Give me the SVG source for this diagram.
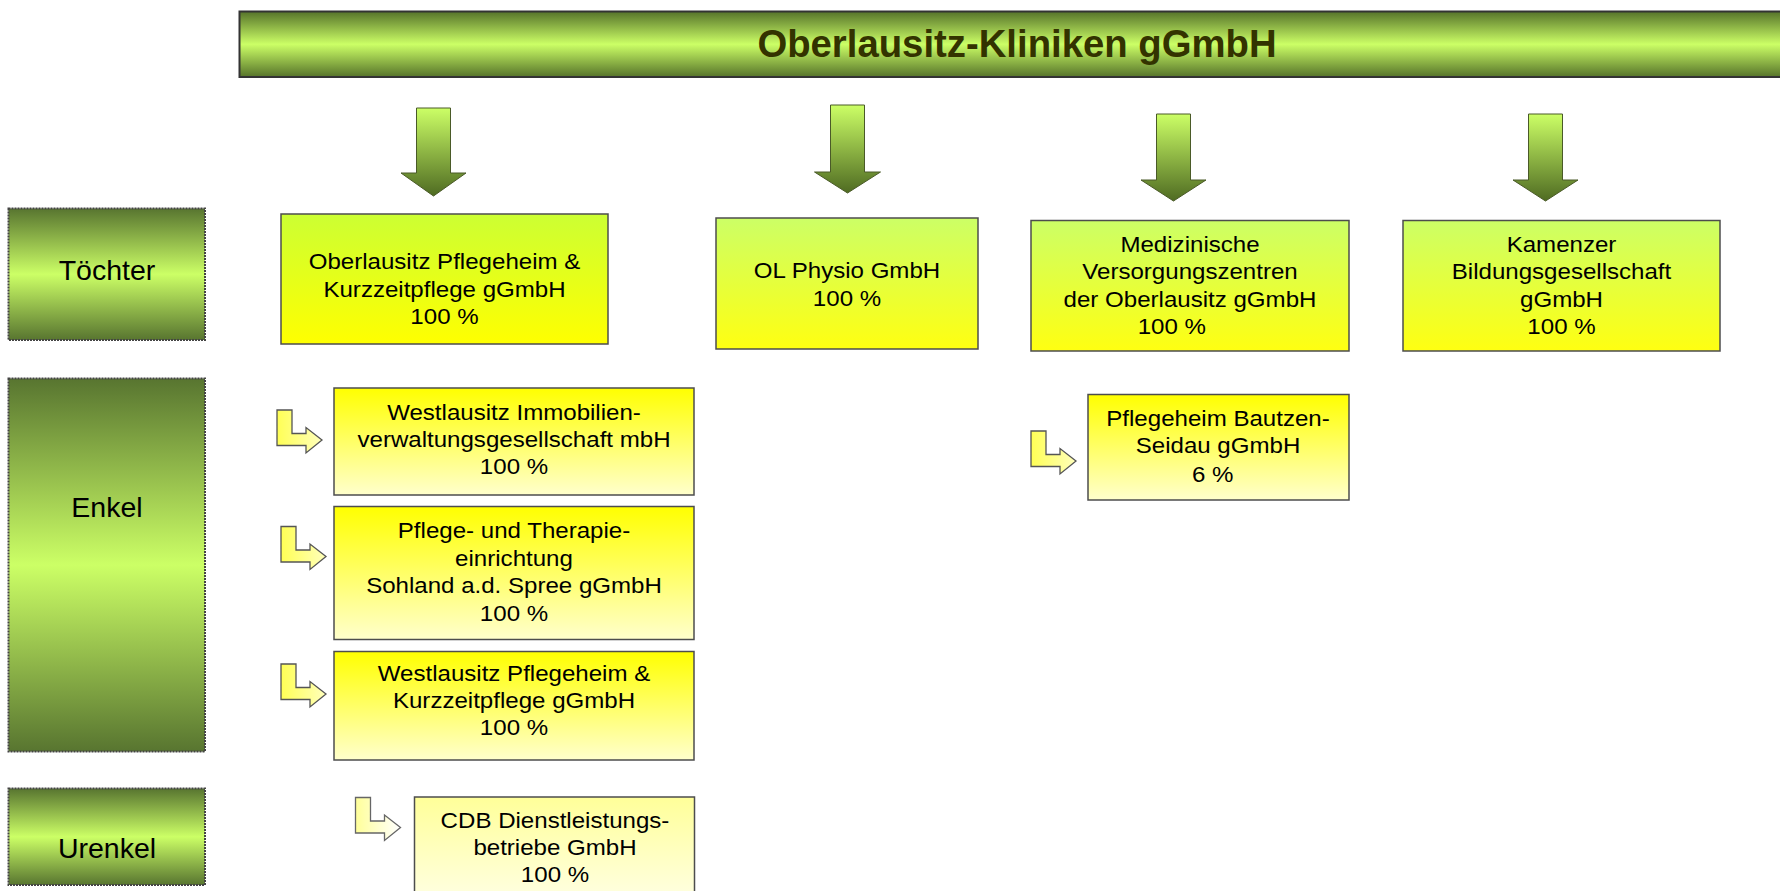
<svg xmlns="http://www.w3.org/2000/svg" width="1780" height="891" viewBox="0 0 1780 891">
<style>
.t{font-family:"Liberation Sans",Arial,sans-serif;font-size:22.5px;fill:#000;text-anchor:middle}
.lbl{font-family:"Liberation Sans",Arial,sans-serif;font-size:28.5px;fill:#000;text-anchor:middle}
.hdr{font-family:"Liberation Sans",Arial,sans-serif;font-size:38.3px;font-weight:bold;fill:#333300;text-anchor:middle}
.box{stroke:#4d4d4d;stroke-width:1.5}
.lblbox{fill:url(#gLbl);stroke:#444;stroke-width:2;stroke-dasharray:2 1}
.down{fill:url(#gDown);stroke:#4a5a28;stroke-width:1}
.bent{fill:url(#gBent);stroke:#555;stroke-width:1.3}
</style>
<defs>
<linearGradient id="gLbl" x1="0" y1="0" x2="0" y2="1">
<stop offset="0" stop-color="#587530"/><stop offset="0.5" stop-color="#ccff66"/><stop offset="1" stop-color="#587530"/>
</linearGradient>
<linearGradient id="gHdr" x1="0" y1="0" x2="0" y2="1">
<stop offset="0" stop-color="#56732a"/><stop offset="0.5" stop-color="#ccff66"/><stop offset="1" stop-color="#56732a"/>
</linearGradient>
<linearGradient id="gDown" x1="0" y1="0" x2="0" y2="1">
<stop offset="0" stop-color="#ccff66"/><stop offset="1" stop-color="#4f6b22"/>
</linearGradient>
<linearGradient id="gT1" x1="0" y1="0" x2="0" y2="1">
<stop offset="0" stop-color="#ccff33"/><stop offset="1" stop-color="#ffff00"/>
</linearGradient>
<linearGradient id="gT" x1="0" y1="0" x2="0" y2="1">
<stop offset="0" stop-color="#ccff66"/><stop offset="1" stop-color="#ffff11"/>
</linearGradient>
<linearGradient id="gE" x1="0" y1="0" x2="0" y2="1">
<stop offset="0" stop-color="#ffff00"/><stop offset="1" stop-color="#ffffcc"/>
</linearGradient>
<linearGradient id="gCDB" x1="0" y1="0" x2="0" y2="1">
<stop offset="0" stop-color="#ffff99"/><stop offset="1" stop-color="#ffffee"/>
</linearGradient>
<linearGradient id="gBent" x1="0" y1="0" x2="1" y2="0">
<stop offset="0" stop-color="#ffff55"/><stop offset="1" stop-color="#ffffbb"/>
</linearGradient>
<linearGradient id="gBentCDB" x1="0" y1="0" x2="1" y2="0">
<stop offset="0" stop-color="#ffff99"/><stop offset="1" stop-color="#ffffff"/>
</linearGradient>
<path id="bentShape" d="M0,0 H15 V23.5 H29 V17.5 L45,30 L29,43 V35.5 H0 Z"/>
</defs>

<rect width="1780" height="891" fill="#ffffff"/>

<g id="header">
<rect x="239.5" y="11.5" width="1560" height="65.5" fill="url(#gHdr)" stroke="#333" stroke-width="2"/>
<text class="hdr" x="1017" y="57">Oberlausitz-Kliniken gGmbH</text>
</g>

<g id="label-toechter">
<rect class="lblbox" x="8.5" y="208.5" width="196.5" height="131.5"/>
<text class="lbl" x="107" y="280">Töchter</text>
</g>
<g id="label-enkel">
<rect class="lblbox" x="8.5" y="378.5" width="196.5" height="373"/>
<text class="lbl" x="107" y="517">Enkel</text>
</g>
<g id="label-urenkel">
<rect class="lblbox" x="8.5" y="788.5" width="196.5" height="96.5"/>
<text class="lbl" x="107" y="858">Urenkel</text>
</g>

<g id="connectors">
<path class="down" d="M416.5,108 H450.5 V173 H466 L433.5,196 L401,173 H416.5 Z"/>
<path class="down" d="M830.5,105 H864.5 V172 H880.5 L847.5,193 L814.5,172 H830.5 Z"/>
<path class="down" d="M1156.5,114 H1190.5 V180 H1206 L1173.5,201 L1141,180 H1156.5 Z"/>
<path class="down" d="M1528.5,114 H1562.5 V180 H1578 L1545.5,201 L1513,180 H1528.5 Z"/>
<use href="#bentShape" class="bent" transform="translate(277,410)"/>
<use href="#bentShape" class="bent" transform="translate(281,526.5)"/>
<use href="#bentShape" class="bent" transform="translate(281,664)"/>
<use href="#bentShape" class="bent" transform="translate(1031,431)"/>
<use href="#bentShape" fill="url(#gBentCDB)" stroke="#666" stroke-width="1.3" transform="translate(355.5,797.5)"/>
</g>

<g id="oberlausitz-pflegeheim">
<rect class="box" x="281" y="214" width="327" height="130" fill="url(#gT1)"/>
<text class="t" transform="translate(444.5,0) scale(1.07,1)"><tspan x="0" y="269">Oberlausitz Pflegeheim &amp;</tspan><tspan x="0" y="297">Kurzzeitpflege gGmbH</tspan><tspan x="0" y="324">100 %</tspan></text>
</g>

<g id="ol-physio">
<rect class="box" x="716" y="218" width="262" height="131" fill="url(#gT)"/>
<text class="t" transform="translate(847,0) scale(1.07,1)"><tspan x="0" y="278">OL Physio GmbH</tspan><tspan x="0" y="306">100 %</tspan></text>
</g>

<g id="mvz">
<rect class="box" x="1031" y="220.5" width="318" height="130.5" fill="url(#gT)"/>
<text class="t" transform="translate(1190,0) scale(1.07,1)"><tspan x="0" y="252">Medizinische</tspan><tspan x="0" y="279.5">Versorgungszentren</tspan><tspan x="0" y="307">der Oberlausitz gGmbH</tspan><tspan x="-17" y="334">100 %</tspan></text>
</g>

<g id="kamenzer">
<rect class="box" x="1403" y="220.5" width="317" height="130.5" fill="url(#gT)"/>
<text class="t" transform="translate(1561.5,0) scale(1.07,1)"><tspan x="0" y="252">Kamenzer</tspan><tspan x="0" y="279.5">Bildungsgesellschaft</tspan><tspan x="0" y="307">gGmbH</tspan><tspan x="0" y="334">100 %</tspan></text>
</g>

<g id="westlausitz-immobilien">
<rect class="box" x="334" y="388" width="360" height="107" fill="url(#gE)"/>
<text class="t" transform="translate(514,0) scale(1.07,1)"><tspan x="0" y="420">Westlausitz Immobilien-</tspan><tspan x="0" y="447">verwaltungsgesellschaft mbH</tspan><tspan x="0" y="474">100 %</tspan></text>
</g>

<g id="pflege-therapie-sohland">
<rect class="box" x="334" y="506.5" width="360" height="133" fill="url(#gE)"/>
<text class="t" transform="translate(514,0) scale(1.07,1)"><tspan x="0" y="538.5">Pflege- und Therapie-</tspan><tspan x="0" y="566">einrichtung</tspan><tspan x="0" y="593.5">Sohland a.d. Spree gGmbH</tspan><tspan x="0" y="621">100 %</tspan></text>
</g>

<g id="westlausitz-pflegeheim">
<rect class="box" x="334" y="651.5" width="360" height="108.5" fill="url(#gE)"/>
<text class="t" transform="translate(514,0) scale(1.07,1)"><tspan x="0" y="681">Westlausitz Pflegeheim &amp;</tspan><tspan x="0" y="708">Kurzzeitpflege gGmbH</tspan><tspan x="0" y="735">100 %</tspan></text>
</g>

<g id="pflegeheim-bautzen-seidau">
<rect class="box" x="1088" y="394.5" width="261" height="105.5" fill="url(#gE)"/>
<text class="t" transform="translate(1218,0) scale(1.07,1)"><tspan x="0" y="426.5">Pflegeheim Bautzen-</tspan><tspan x="0" y="453.5">Seidau gGmbH</tspan><tspan x="-5" y="482">6 %</tspan></text>
</g>

<g id="cdb">
<rect class="box" x="414.5" y="797" width="280" height="120" fill="url(#gCDB)"/>
<text class="t" transform="translate(555,0) scale(1.07,1)"><tspan x="0" y="828.5">CDB Dienstleistungs-</tspan><tspan x="0" y="855.5">betriebe GmbH</tspan><tspan x="0" y="882.5">100 %</tspan></text>
</g>
</svg>
